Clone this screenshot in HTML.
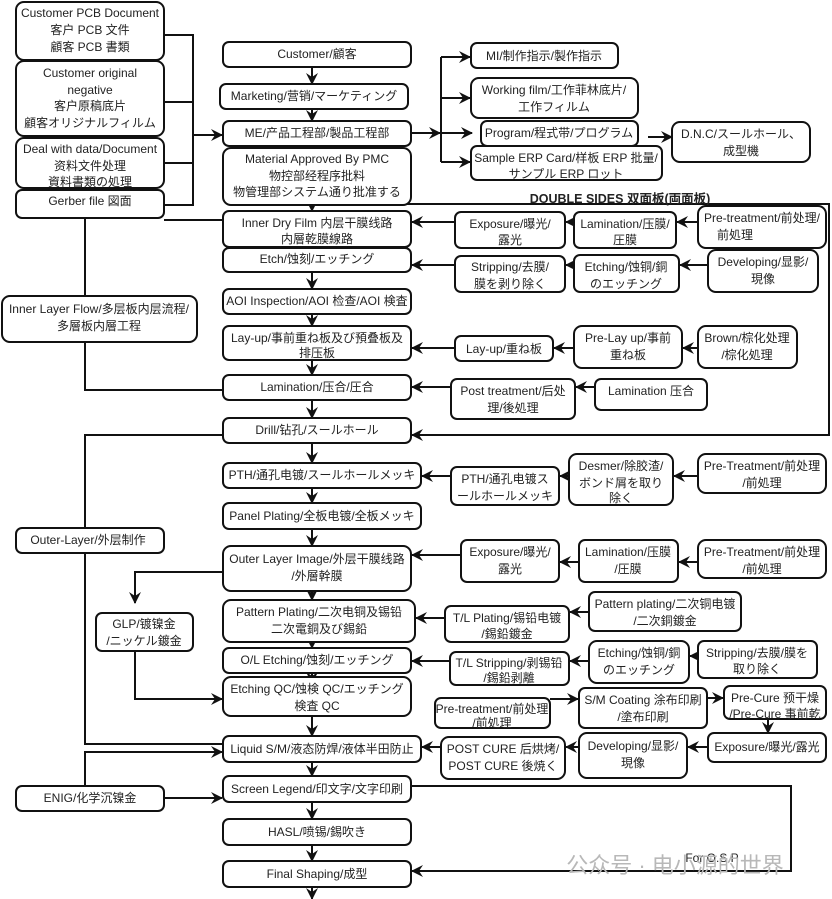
<!DOCTYPE html>
<html><head><meta charset="utf-8"><style>
html,body{margin:0;padding:0;background:#fff;}
svg{display:block;}
text{font-family:"Liberation Sans","Noto Sans CJK SC",sans-serif;font-size:12px;fill:#222;text-anchor:middle;}
rect{fill:#fff;stroke:#111;stroke-width:2;}
.l{fill:none;stroke:#111;stroke-width:2;}
</style></head><body>
<svg width="832" height="899" viewBox="0 0 832 899" xmlns="http://www.w3.org/2000/svg">
<defs>
<marker id="a" viewBox="0 0 12 12" refX="11" refY="6" markerWidth="12" markerHeight="12" markerUnits="userSpaceOnUse" orient="auto">
<path d="M0,0 L12,6 L0,12 L4,6 z" fill="#111"/>
</marker>
</defs>

<g class="l">
<path class="l" d="M164,35 H193 V205 H164 M164,102 H193 M164,163 H193"/>
<path class="l" d="M193,135 H222" marker-end="url(#a)"/>
<path class="l" d="M164,220 H223"/>
<path class="l" d="M85,218 V390 H223"/>
<path class="l" d="M223,435 H85 V744 H223"/>
<path class="l" d="M223,572 H135 V603" marker-end="url(#a)"/>
<path class="l" d="M135,651 V699 H222" marker-end="url(#a)"/>
<path class="l" d="M85,786 V752 H222" marker-end="url(#a)"/>
<path class="l" d="M164,798 H222" marker-end="url(#a)"/>
<path class="l" d="M312,67 V84" marker-end="url(#a)"/>
<path class="l" d="M312,109 V121" marker-end="url(#a)"/>
<path class="l" d="M312,146 V158" marker-end="url(#a)"/>
<path class="l" d="M312,200 V211" marker-end="url(#a)"/>
<path class="l" d="M312,236 V248" marker-end="url(#a)"/>
<path class="l" d="M312,272 V289" marker-end="url(#a)"/>
<path class="l" d="M312,314 V326" marker-end="url(#a)"/>
<path class="l" d="M312,360 V375" marker-end="url(#a)"/>
<path class="l" d="M312,400 V418" marker-end="url(#a)"/>
<path class="l" d="M312,443 V463" marker-end="url(#a)"/>
<path class="l" d="M312,488 V503" marker-end="url(#a)"/>
<path class="l" d="M312,529 V546" marker-end="url(#a)"/>
<path class="l" d="M312,591 V600" marker-end="url(#a)"/>
<path class="l" d="M312,635 V648" marker-end="url(#a)"/>
<path class="l" d="M312,667 V683" marker-end="url(#a)"/>
<path class="l" d="M312,716 V736" marker-end="url(#a)"/>
<path class="l" d="M312,762 V776" marker-end="url(#a)"/>
<path class="l" d="M312,802 V819" marker-end="url(#a)"/>
<path class="l" d="M312,845 V861" marker-end="url(#a)"/>
<path class="l" d="M312,887 V899" marker-end="url(#a)"/>
<path class="l" d="M411,133 H440" marker-end="url(#a)"/>
<path class="l" d="M441,57 V162"/>
<path class="l" d="M441,57 H470" marker-end="url(#a)"/>
<path class="l" d="M441,98 H470" marker-end="url(#a)"/>
<path class="l" d="M441,133 H472" marker-end="url(#a)"/>
<path class="l" d="M441,162 H470" marker-end="url(#a)"/>
<path class="l" d="M648,137 H672" marker-end="url(#a)"/>
<path class="l" d="M346,195 V204 H829 V435 H412" marker-end="url(#a)"/>
<path class="l" d="M455,222 H412" marker-end="url(#a)"/>
<path class="l" d="M574,222 H566" marker-end="url(#a)"/>
<path class="l" d="M698,222 H677" marker-end="url(#a)"/>
<path class="l" d="M455,265 H412" marker-end="url(#a)"/>
<path class="l" d="M574,265 H566" marker-end="url(#a)"/>
<path class="l" d="M708,265 H680" marker-end="url(#a)"/>
<path class="l" d="M455,348 H412" marker-end="url(#a)"/>
<path class="l" d="M574,348 H554" marker-end="url(#a)"/>
<path class="l" d="M698,348 H683" marker-end="url(#a)"/>
<path class="l" d="M451,387 H412" marker-end="url(#a)"/>
<path class="l" d="M595,387 H576" marker-end="url(#a)"/>
<path class="l" d="M451,476 H422" marker-end="url(#a)"/>
<path class="l" d="M569,476 H560" marker-end="url(#a)"/>
<path class="l" d="M698,476 H674" marker-end="url(#a)"/>
<path class="l" d="M461,555 H412" marker-end="url(#a)"/>
<path class="l" d="M579,562 H560" marker-end="url(#a)"/>
<path class="l" d="M698,562 H679" marker-end="url(#a)"/>
<path class="l" d="M445,618 H416" marker-end="url(#a)"/>
<path class="l" d="M589,612 H570" marker-end="url(#a)"/>
<path class="l" d="M450,661 H412" marker-end="url(#a)"/>
<path class="l" d="M589,661 H570" marker-end="url(#a)"/>
<path class="l" d="M698,656 H690" marker-end="url(#a)"/>
<path class="l" d="M550,699 H578" marker-end="url(#a)"/>
<path class="l" d="M707,698 H723" marker-end="url(#a)"/>
<path class="l" d="M768,719 V733" marker-end="url(#a)"/>
<path class="l" d="M708,747 H688" marker-end="url(#a)"/>
<path class="l" d="M579,747 H566" marker-end="url(#a)"/>
<path class="l" d="M441,747 H422" marker-end="url(#a)"/>
<path class="l" d="M411,786 H791 V871 H412" marker-end="url(#a)"/>
</g>

<rect x="16" y="2" width="148" height="58" rx="8"/>
<text x="90" y="17">Customer PCB Document</text><text x="90" y="34">客户 PCB 文件</text><text x="90" y="51">顧客 PCB 書類</text>
<rect x="16" y="61" width="148" height="75" rx="8"/>
<text x="90" y="77">Customer original</text><text x="90" y="94">negative</text><text x="90" y="110">客户原稿底片</text><text x="90" y="127">顧客オリジナルフィルム</text>
<rect x="16" y="138" width="148" height="50" rx="8"/>
<text x="90" y="153">Deal with data/Document</text><text x="90" y="170">资料文件处理</text><text x="90" y="186">資料書類の処理</text>
<rect x="16" y="190" width="148" height="28" rx="6"/>
<text x="90" y="205">Gerber file 図面</text>
<rect x="2" y="296" width="195" height="46" rx="8"/>
<text x="99" y="313">Inner Layer Flow/多层板内层流程/</text><text x="99" y="330">多層板内層工程</text>
<rect x="16" y="528" width="148" height="25" rx="6"/>
<text x="88" y="544">Outer-Layer/外层制作</text>
<rect x="96" y="613" width="97" height="38" rx="6"/>
<text x="144" y="628">GLP/镀镍金</text><text x="144" y="645">/ニッケル鍍金</text>
<rect x="16" y="786" width="148" height="25" rx="6"/>
<text x="90" y="802">ENIG/化学沉镍金</text>

<rect x="223" y="42" width="188" height="25" rx="6"/><text x="317" y="58">Customer/顧客</text>
<rect x="220" y="84" width="188" height="25" rx="6"/><text x="314" y="100">Marketing/营销/マーケティング</text>
<rect x="223" y="121" width="188" height="25" rx="6"/><text x="317" y="137">ME/产品工程部/製品工程部</text>
<rect x="223" y="148" width="188" height="57" rx="8"/>
<text x="317" y="163">Material Approved By PMC</text><text x="317" y="180">物控部经程序批料</text><text x="317" y="196">物管理部システム通り批准する</text>
<rect x="223" y="211" width="188" height="36" rx="6"/><text x="317" y="227">Inner Dry Film 内层干膜线路</text><text x="317" y="243">内層乾膜線路</text>
<rect x="223" y="248" width="188" height="24" rx="6"/><text x="317" y="263">Etch/蚀刻/エッチング</text>
<rect x="223" y="289" width="188" height="25" rx="6"/><text x="317" y="305">AOI Inspection/AOI 检查/AOI 検査</text>
<rect x="223" y="326" width="188" height="34" rx="6"/><text x="317" y="342">Lay-up/事前重ね板及び預叠板及</text><text x="317" y="357">排压板</text>
<rect x="223" y="375" width="188" height="25" rx="6"/><text x="317" y="391">Lamination/压合/圧合</text>
<rect x="223" y="418" width="188" height="25" rx="6"/><text x="317" y="434">Drill/钻孔/スールホール</text>
<rect x="223" y="463" width="198" height="25" rx="6"/><text x="322" y="479">PTH/通孔电镀/スールホールメッキ</text>
<rect x="223" y="503" width="198" height="26" rx="6"/><text x="322" y="520">Panel Plating/全板电镀/全板メッキ</text>
<rect x="223" y="546" width="188" height="45" rx="8"/><text x="317" y="563">Outer Layer Image/外层干膜线路</text><text x="317" y="580">/外層幹膜</text>
<rect x="223" y="600" width="192" height="42" rx="8"/><text x="319" y="616">Pattern Plating/二次电铜及锡铅</text><text x="319" y="633">二次電銅及び錫鉛</text>
<rect x="223" y="648" width="188" height="25" rx="6"/><text x="317" y="664">O/L Etching/蚀刻/エッチング</text>
<rect x="223" y="677" width="188" height="39" rx="8"/><text x="317" y="693">Etching QC/蚀検 QC/エッチング</text><text x="317" y="710">検査 QC</text>
<rect x="223" y="736" width="198" height="26" rx="6"/><text x="322" y="753">Liquid S/M/液态防焊/液体半田防止</text>
<rect x="223" y="776" width="188" height="26" rx="6"/><text x="317" y="793">Screen Legend/印文字/文字印刷</text>
<rect x="223" y="819" width="188" height="26" rx="6"/><text x="317" y="836">HASL/喷锡/錫吹き</text>
<rect x="223" y="861" width="188" height="26" rx="6"/><text x="317" y="878">Final Shaping/成型</text>

<rect x="471" y="43" width="147" height="25" rx="6"/><text x="544" y="60">MI/制作指示/製作指示</text>
<rect x="471" y="78" width="167" height="40" rx="8"/><text x="554" y="94">Working film/工作菲林底片/</text><text x="554" y="111">工作フィルム</text>
<rect x="481" y="121" width="157" height="25" rx="6"/><text x="559" y="137">Program/程式带/プログラム</text>
<rect x="471" y="146" width="191" height="34" rx="6"/><text x="566" y="162">Sample ERP Card/样板 ERP 批量/</text><text x="566" y="178">サンプル ERP ロット</text>
<rect x="672" y="122" width="138" height="40" rx="8"/><text x="741" y="138">D.N.C/スールホール、</text><text x="741" y="155">成型機</text>
<text x="620" y="203" style="font-weight:bold;font-size:12.5px">DOUBLE SIDES 双面板(両面板)</text>

<rect x="455" y="212" width="110" height="36" rx="6"/><text x="510" y="228">Exposure/曝光/</text><text x="510" y="244">露光</text>
<rect x="574" y="212" width="102" height="36" rx="6"/><text x="625" y="228">Lamination/压膜/</text><text x="625" y="244">圧膜</text>
<rect x="698" y="206" width="128" height="42" rx="8"/><text x="762" y="222">Pre-treatment/前处理/</text><text x="735" y="239">前処理</text>
<rect x="455" y="256" width="110" height="36" rx="6"/><text x="510" y="271">Stripping/去膜/</text><text x="510" y="288">膜を剥り除く</text>
<rect x="574" y="255" width="105" height="37" rx="6"/><text x="626" y="271">Etching/蚀铜/銅</text><text x="626" y="288">のエッチング</text>
<rect x="708" y="250" width="110" height="42" rx="8"/><text x="763" y="266">Developing/显影/</text><text x="763" y="283">現像</text>
<rect x="455" y="336" width="98" height="25" rx="6"/><text x="504" y="353">Lay-up/重ね板</text>
<rect x="574" y="326" width="108" height="42" rx="8"/><text x="628" y="342">Pre-Lay up/事前</text><text x="628" y="359">重ね板</text>
<rect x="698" y="326" width="99" height="42" rx="8"/><text x="747" y="342">Brown/棕化处理</text><text x="747" y="359">/棕化処理</text>
<rect x="451" y="379" width="124" height="40" rx="6"/><text x="513" y="395">Post treatment/后处</text><text x="513" y="412">理/後処理</text>
<rect x="595" y="379" width="112" height="31" rx="6"/><text x="651" y="395">Lamination 压合</text>

<rect x="451" y="467" width="108" height="38" rx="6"/><text x="505" y="483">PTH/通孔电镀ス</text><text x="505" y="500">ールホールメッキ</text>
<rect x="569" y="454" width="104" height="51" rx="8"/><text x="621" y="470">Desmer/除胶渣/</text><text x="621" y="487">ボンド屑を取り</text><text x="621" y="502">除く</text>
<rect x="698" y="454" width="128" height="39" rx="8"/><text x="762" y="470">Pre-Treatment/前处理</text><text x="762" y="487">/前処理</text>
<rect x="461" y="540" width="98" height="42" rx="6"/><text x="510" y="556">Exposure/曝光/</text><text x="510" y="573">露光</text>
<rect x="579" y="540" width="99" height="42" rx="6"/><text x="628" y="556">Lamination/压膜</text><text x="628" y="573">/圧膜</text>
<rect x="698" y="540" width="128" height="38" rx="8"/><text x="762" y="556">Pre-Treatment/前处理</text><text x="762" y="573">/前処理</text>
<rect x="589" y="592" width="152" height="39" rx="6"/><text x="665" y="608">Pattern plating/二次铜电镀</text><text x="665" y="625">/二次銅鍍金</text>
<rect x="445" y="606" width="124" height="36" rx="6"/><text x="507" y="622">T/L Plating/锡铅电镀</text><text x="507" y="638">/錫鉛鍍金</text>
<rect x="589" y="641" width="100" height="42" rx="8"/><text x="639" y="657">Etching/蚀铜/銅</text><text x="639" y="674">のエッチング</text>
<rect x="698" y="641" width="119" height="37" rx="6"/><text x="757" y="657">Stripping/去膜/膜を</text><text x="757" y="673">取り除く</text>
<rect x="450" y="652" width="119" height="33" rx="6"/><text x="509" y="667">T/L Stripping/剥锡铅</text><text x="509" y="682">/錫鉛剥離</text>
<rect x="435" y="698" width="115" height="30" rx="6"/><text x="492" y="713">Pre-treatment/前处理</text><text x="492" y="727">/前処理</text>
<rect x="579" y="688" width="128" height="40" rx="6"/><text x="643" y="704">S/M Coating 涂布印刷</text><text x="643" y="721">/塗布印刷</text>
<rect x="724" y="686" width="102" height="33" rx="6"/><text x="775" y="702">Pre-Cure 预干燥</text><text x="775" y="718">/Pre-Cure 事前乾</text>
<rect x="708" y="733" width="118" height="29" rx="6"/><text x="767" y="751">Exposure/曝光/露光</text>
<rect x="579" y="733" width="108" height="45" rx="8"/><text x="633" y="750">Developing/显影/</text><text x="633" y="767">現像</text>
<rect x="441" y="737" width="124" height="42" rx="8"/><text x="503" y="753">POST CURE 后烘烤/</text><text x="503" y="770">POST CURE 後焼く</text>

<text x="712" y="862">For O.S.P</text>
<text x="675" y="873" style="font-size:22px;fill:#b8b8b8;">公众号 · 电小源的世界</text>
</svg>
</body></html>
